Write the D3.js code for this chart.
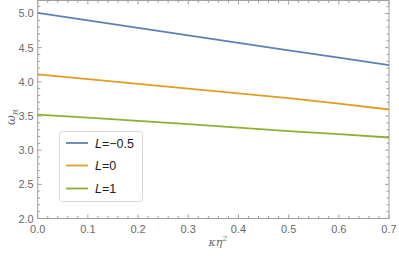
<!DOCTYPE html>
<html><head><meta charset="utf-8">
<script src="https://cdn.jsdelivr.net/npm/d3@7"></script>
<style>body{margin:0;background:#fff}svg{display:block}</style>
</head><body><svg id="c" width="399" height="256"></svg>
<script>
const xs = [0, 0.1, 0.2, 0.3, 0.4, 0.5, 0.6, 0.7];
const seriesNames = ["L=-0.5", "L=0", "L=1"];
const blueVals = [5.01, 4.90, 4.79, 4.68, 4.57, 4.46, 4.355, 4.245];
const orangeVals = [4.11, 4.04, 3.97, 3.90, 3.83, 3.76, 3.68, 3.595];
const greenVals = [3.52, 3.475, 3.43, 3.38, 3.33, 3.28, 3.235, 3.185];
const xTicks = [0, 0.1, 0.2, 0.3, 0.4, 0.5, 0.6, 0.7];
const yTicks = [2.0, 2.5, 3.0, 3.5, 4.0, 4.5, 5.0];
const colors = ["#5E81B5", "#E19C24", "#8FB032"];
const allVals = [blueVals, orangeVals, greenVals];

const svg = d3.select("#c");
const L = 37.7, R = 389, T = 0.5, B = 218.5;
const x = d3.scaleLinear().domain([0, 0.7]).range([L, R]);
const y = d3.scaleLinear().domain([2.0, 5.19]).range([B, T]);
const frame = "#a0a0a0", txt = "#6a6a6a";

const g = svg.append("g");
g.append("rect").attr("x", L).attr("y", T).attr("width", R - L).attr("height", B - T)
  .attr("fill", "none").attr("stroke", frame).attr("stroke-width", 1);

const xMinor = d3.range(0, 0.7001, 0.02);
const yMinor = d3.range(2.0, 5.19, 0.1);
function isMajor(v, step){ return Math.abs(v/step - Math.round(v/step)) < 1e-6; }
xMinor.forEach(v => {
  const len = isMajor(v, 0.1) ? 4 : 2.5;
  g.append("line").attr("x1", x(v)).attr("x2", x(v)).attr("y1", B).attr("y2", B - len).attr("stroke", frame);
  g.append("line").attr("x1", x(v)).attr("x2", x(v)).attr("y1", T).attr("y2", T + len).attr("stroke", frame);
});
yMinor.forEach(v => {
  const len = isMajor(v, 0.5) ? 4 : 2.5;
  g.append("line").attr("y1", y(v)).attr("y2", y(v)).attr("x1", L).attr("x2", L + len).attr("stroke", frame);
  g.append("line").attr("y1", y(v)).attr("y2", y(v)).attr("x1", R).attr("x2", R - len).attr("stroke", frame);
});
xTicks.forEach(v => {
  g.append("text").attr("x", x(v)).attr("y", B + 14.5).attr("text-anchor", "middle")
    .attr("font-family", "Liberation Sans, Arial, sans-serif").attr("font-size", 11).attr("fill", txt)
    .text(d3.format(".1f")(v));
});
yTicks.forEach(v => {
  g.append("text").attr("x", L - 4).attr("y", y(v) + 4).attr("text-anchor", "end")
    .attr("font-family", "Liberation Sans, Arial, sans-serif").attr("font-size", 11).attr("fill", txt)
    .text(d3.format(".1f")(v));
});

const line = d3.line().x((d, i) => x(xs[i])).y(d => y(d));
allVals.forEach((vals, k) => {
  g.append("path").attr("d", line(vals)).attr("fill", "none")
    .attr("stroke", colors[k]).attr("stroke-width", 1.8);
});

// axis labels
const yl = g.append("text").attr("transform", "translate(15,117) rotate(-90)")
  .attr("text-anchor", "middle").attr("font-family", "DejaVu Serif, serif").attr("font-size", 12)
  .attr("fill", txt).attr("font-style", "italic");
yl.append("tspan").text("ω");
yl.append("tspan").attr("font-size", 8).attr("dy", 3).text("R");

const xl = g.append("text").attr("x", 218).attr("y", 246)
  .attr("text-anchor", "middle").attr("font-family", "DejaVu Serif, serif").attr("font-size", 11)
  .attr("fill", txt).attr("font-style", "italic");
xl.append("tspan").text("κη");
xl.append("tspan").attr("font-size", 8).attr("dy", -5).text("2");

// legend
const lg = g.append("g");
lg.append("rect").attr("x", 59.5).attr("y", 131.5).attr("width", 83).attr("height", 70)
  .attr("rx", 3).attr("fill", "#fff").attr("stroke", "#d8d8d8");
const rowsY = [143, 165.5, 188.5];
seriesNames.forEach((n, k) => {
  lg.append("line").attr("x1", 66).attr("x2", 88).attr("y1", rowsY[k]).attr("y2", rowsY[k])
    .attr("stroke", colors[k]).attr("stroke-width", 1.8);
  const t = lg.append("text").attr("x", 95).attr("y", rowsY[k] + 4.5)
    .attr("font-family", "Liberation Sans, Arial, sans-serif").attr("font-size", 12.5).attr("fill", "#222");
  const parts = n.split("=");
  t.append("tspan").attr("font-style", "italic").text(parts[0]);
  t.append("tspan").text("=" + parts[1].replace("-", "\u2212"));
});
</script></body></html>
